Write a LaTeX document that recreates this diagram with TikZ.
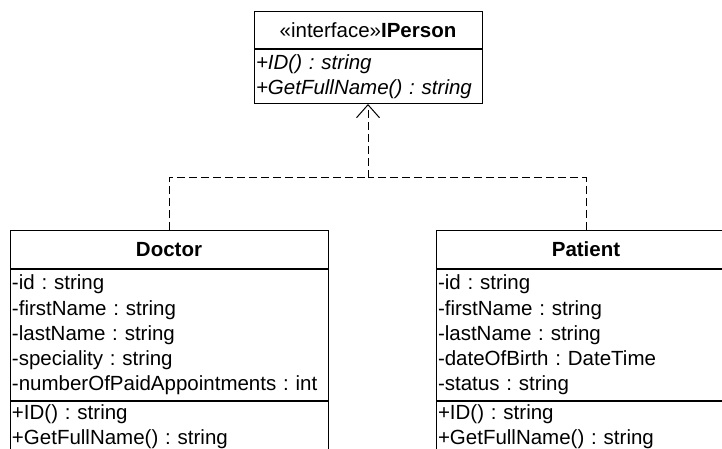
\documentclass[tikz,border=0pt]{standalone}
\usepackage{fontspec}
\setmainfont{Liberation Sans}
\usetikzlibrary{positioning,arrows.meta}
\frenchspacing

\begin{document}
\begin{tikzpicture}[x=1pt,y=-1pt,line width=1pt,node distance=0pt,
    font=\fontsize{20.5}{25.3}\selectfont,
    classname/.style={draw,minimum height=38pt,inner sep=2pt,anchor=north},
    classpart/.style={draw,align=left,inner sep=2pt,anchor=north},
    abstract/.style={font=\fontsize{20.5}{25.3}\selectfont\itshape},
    realize/.style={dash pattern=on 8pt off 4pt}]
    \useasboundingbox (0,0) rectangle (722,449);
    \clip (0,0) rectangle (722,449);
    % interface
    \node[classname, minimum width=228pt, minimum height=37pt] (iperson) at (368,11) {«interface»\textbf{IPerson}};
    \node[classpart, abstract, text width=224pt, minimum height=54pt] (iperson_ops) [below=of iperson] {+ID() : string\\+GetFullName() : string};
    % classes
    \node[classname, minimum width=318pt] (doctor) at (169,230) {\textbf{Doctor}};
    \node[classpart, text width=314pt, minimum height=131pt] (doctor_attr) [below=of doctor] {-id : string\\-firstName : string\\-lastName : string\\-speciality : string\\-numberOfPaidAppointments : int};
    \node[classpart, text width=314pt, minimum height=51pt] (doctor_ops) [below=of doctor_attr] {+ID() : string\\+GetFullName() : string};
    \node[classname, minimum width=300pt] (patient) at (586,230) {\textbf{Patient}};
    \node[classpart, text width=296pt, minimum height=131pt] (patient_attr) [below=of patient] {-id : string\\-firstName : string\\-lastName : string\\-dateOfBirth : DateTime\\-status : string};
    \node[classpart, text width=296pt, minimum height=51pt] (patient_ops) [below=of patient_attr] {+ID() : string\\+GetFullName() : string};
    % realization
    \coordinate (join) at (368,178);
    \draw[realize] (doctor.north) |- (join);
    \draw[realize] (patient.north) |- (join);
    \draw[realize,-{Straight Barb[length=13pt,width=23pt]}] (join) -- (iperson_ops.south);
\end{tikzpicture}
\end{document}
